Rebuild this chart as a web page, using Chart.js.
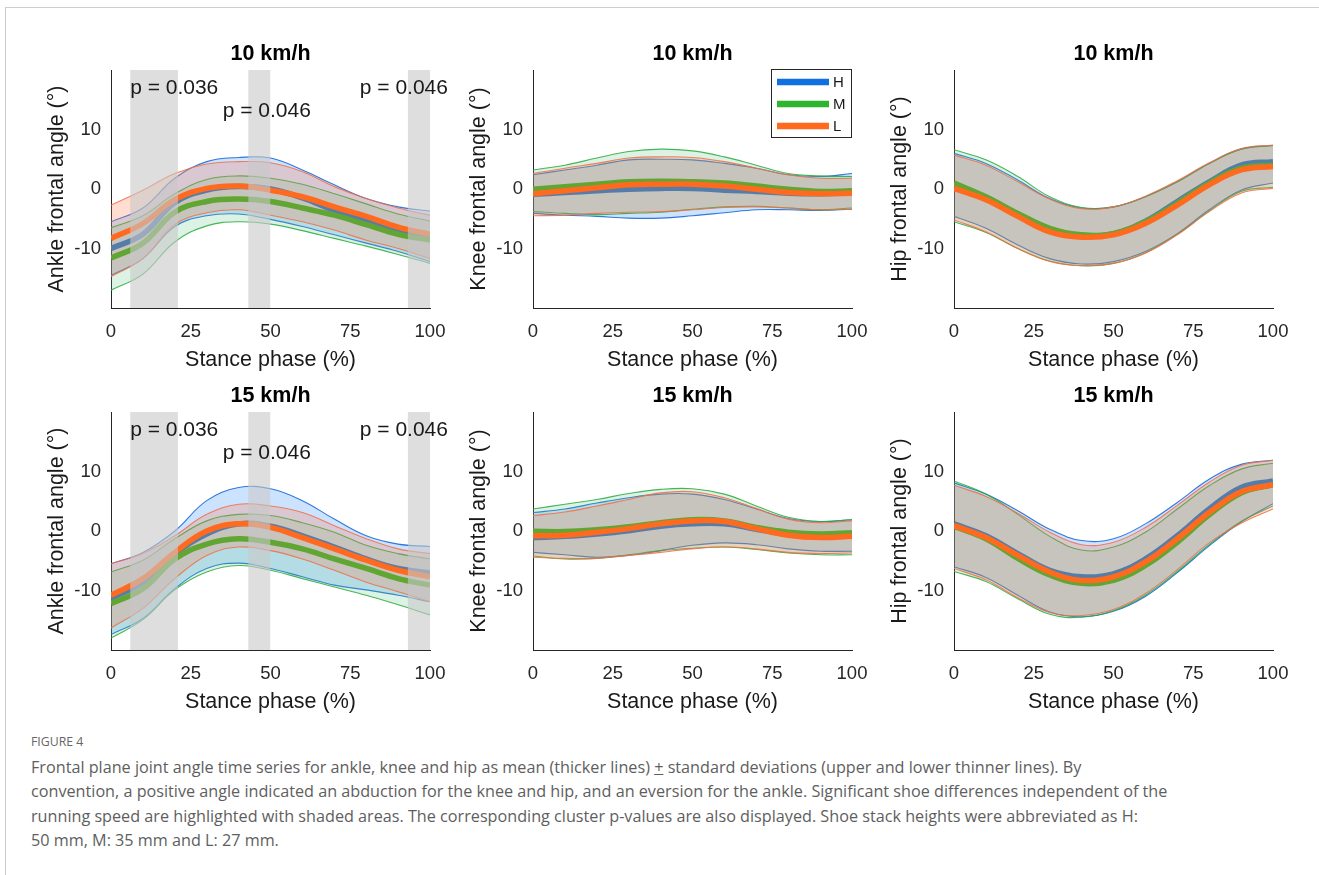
<!DOCTYPE html>
<html>
<head>
<meta charset="utf-8">
<script src="https://cdn.jsdelivr.net/npm/chart.js@4.4.1/dist/chart.umd.min.js"></script>
<style>
html,body{margin:0;padding:0;background:#fff;}
body{width:1319px;height:875px;position:relative;overflow:hidden;}
#frame{position:absolute;left:5px;top:7px;width:1400px;height:900px;border-left:1.5px solid #cdcdcd;border-top:1.5px solid #cdcdcd;}
canvas.pc{position:absolute;}
#figlab{position:absolute;left:31px;top:733px;font-family:'Open Sans',Lato,sans-serif;font-size:12.3px;color:#666;white-space:nowrap;}
#cap{position:absolute;left:31px;top:755px;font-family:'Open Sans',Lato,sans-serif;font-size:16.2px;line-height:24.3px;color:#5e5e5e;white-space:nowrap;}
</style>
</head>
<body>
<div id="frame"></div>
<canvas class="pc" id="c00" width="454" height="356" style="left:21px;top:20px;width:454px;height:356px"></canvas>
<canvas class="pc" id="c01" width="454" height="356" style="left:443px;top:20px;width:454px;height:356px"></canvas>
<canvas class="pc" id="c02" width="454" height="356" style="left:864px;top:20px;width:454px;height:356px"></canvas>
<canvas class="pc" id="c10" width="454" height="356" style="left:21px;top:362px;width:454px;height:356px"></canvas>
<canvas class="pc" id="c11" width="454" height="356" style="left:443px;top:362px;width:454px;height:356px"></canvas>
<canvas class="pc" id="c12" width="454" height="356" style="left:864px;top:362px;width:454px;height:356px"></canvas>
<div id="figlab">FIGURE 4</div>
<div id="cap">Frontal plane joint angle time series for ankle, knee and hip as mean (thicker lines) <u>+</u> standard deviations (upper and lower thinner lines). By<br>convention, a positive angle indicated an abduction for the knee and hip, and an eversion for the ankle. Significant shoe differences independent of the<br>running speed are highlighted with shaded areas. The corresponding cluster p-values are also displayed. Shoe stack heights were abbreviated as H:<br>50 mm, M: 35 mm and L: 27 mm.</div>
<script>
// ---------- data ----------
const stance = [0, 10, 20, 30, 40, 50, 60, 70, 80, 90, 100];
const xTicks = [0, 25, 50, 75, 100];
const yTicks = [-10, 0, 10];
const yRange = [-20, 20];

// Ankle 10 km/h
const ankle10_H_up   = [-5.5, -3.2, 1.8, 4.6, 5.3, 5.2, 3.2, 0.7, -1.6, -3.0, -3.7];
const ankle10_H_mean = [-10.0, -7.6, -2.3, -0.2, 0.4, 0.0, -1.5, -3.6, -5.4, -6.9, -7.9];
const ankle10_H_lo   = [-14.5, -11.7, -6.3, -4.5, -4.2, -5.1, -6.3, -7.7, -9.1, -10.5, -12.2];
const ankle10_M_up   = [-6.5, -4.5, -0.8, 1.6, 2.2, 1.8, 0.8, -0.8, -2.5, -4.2, -5.4];
const ankle10_M_mean = [-11.6, -9.1, -3.9, -2.1, -1.7, -2.1, -3.2, -4.4, -6.0, -7.6, -8.6];
const ankle10_M_lo   = [-17.0, -14.3, -8.9, -6.2, -5.5, -5.9, -7.0, -8.3, -9.6, -11.0, -12.5];
const ankle10_L_up   = [-2.7, -0.2, 2.6, 4.2, 4.6, 4.4, 2.9, 0.4, -1.6, -3.2, -4.4];
const ankle10_L_mean = [-8.3, -5.8, -1.8, 0.1, 0.5, -0.2, -1.3, -3.0, -4.6, -6.4, -7.6];
const ankle10_L_lo   = [-14.7, -11.7, -6.0, -4.0, -3.5, -4.4, -5.5, -6.9, -8.6, -10.0, -11.7];

// Knee 10 km/h
const knee10_H_up   = [2.4, 3.2, 4.0, 4.9, 5.0, 4.9, 4.3, 3.5, 2.4, 2.1, 2.6];
const knee10_H_mean = [-0.9, -0.6, -0.3, -0.05, 0.1, 0.1, -0.2, -0.4, -0.7, -0.8, -0.6];
const knee10_H_lo   = [-4.1, -4.4, -4.6, -4.9, -4.9, -4.5, -4.0, -3.5, -3.5, -3.6, -3.4];
const knee10_M_up   = [3.2, 4.0, 5.2, 6.3, 6.7, 6.4, 5.4, 4.0, 2.6, 2.2, 2.1];
const knee10_M_mean = [-0.05, 0.4, 0.8, 1.2, 1.3, 1.2, 1.0, 0.5, -0.05, -0.4, -0.3];
const knee10_M_lo   = [-3.8, -4.1, -4.3, -4.1, -3.9, -3.4, -3.0, -2.9, -3.2, -3.5, -3.2];
const knee10_L_up   = [2.6, 3.5, 4.3, 5.2, 5.4, 5.3, 4.6, 3.5, 2.4, 1.8, 1.8];
const knee10_L_mean = [-0.8, -0.3, 0.2, 0.7, 0.8, 0.8, 0.5, -0.05, -0.6, -0.8, -0.7];
const knee10_L_lo   = [-4.5, -4.4, -4.1, -3.9, -3.8, -3.5, -3.1, -3.0, -3.2, -3.5, -3.4];

// Hip 10 km/h
const hip10_H_up   = [6.0, 4.3, 1.5, -1.6, -3.2, -3.0, -1.3, 1.2, 4.3, 6.7, 7.3];
const hip10_H_mean = [0.4, -1.6, -4.4, -6.9, -7.9, -7.5, -5.4, -2.1, 1.2, 4.0, 4.6];
const hip10_H_lo   = [-4.6, -6.6, -9.4, -11.7, -12.6, -12.2, -10.5, -7.5, -3.5, -0.2, 1.0];
const hip10_M_up   = [6.6, 4.9, 2.1, -1.3, -3.1, -3.0, -1.3, 1.2, 4.3, 6.7, 7.3];
const hip10_M_mean = [1.0, -1.3, -4.1, -6.6, -7.7, -7.5, -5.5, -2.4, 1.0, 3.5, 4.0];
const hip10_M_lo   = [-5.5, -7.3, -10.0, -12.1, -12.9, -12.5, -10.7, -7.6, -3.7, -0.4, 0.3];
const hip10_L_up   = [5.7, 4.0, 1.2, -1.7, -3.3, -3.0, -1.2, 1.4, 4.4, 6.8, 7.4];
const hip10_L_mean = [0.1, -1.8, -4.6, -7.2, -8.1, -7.7, -5.8, -2.7, 0.7, 3.2, 3.8];
const hip10_L_lo   = [-5.2, -7.2, -10.0, -12.2, -12.9, -12.5, -10.8, -7.7, -3.8, -0.7, 0.1];

// Ankle 15 km/h
const ankle15_H_up   = [-5.5, -3.6, 0.0, 5.1, 7.3, 7.1, 5.1, 2.0, -0.8, -2.2, -2.6];
const ankle15_H_mean = [-11.3, -8.6, -3.8, -0.5, 1.2, 0.8, -0.8, -2.7, -4.7, -6.3, -7.0];
const ankle15_H_lo   = [-17.4, -14.7, -9.7, -6.3, -5.4, -6.3, -7.7, -9.1, -9.9, -10.8, -11.9];
const ankle15_M_up   = [-6.9, -4.9, -1.3, 1.7, 2.8, 2.6, 1.4, -0.2, -2.4, -3.8, -4.7];
const ankle15_M_mean = [-12.2, -9.7, -4.7, -2.2, -1.3, -1.9, -3.0, -4.7, -6.3, -8.0, -9.1];
const ankle15_M_lo   = [-18.0, -14.9, -9.9, -6.9, -5.8, -6.6, -8.0, -9.4, -10.8, -12.4, -14.1];
const ankle15_L_up   = [-5.5, -3.8, -0.8, 2.8, 4.5, 4.2, 3.1, 0.9, -1.3, -3.0, -3.8];
const ankle15_L_mean = [-10.8, -8.0, -3.6, 0.0, 1.2, 0.6, -1.1, -3.0, -4.9, -6.6, -7.7];
const ankle15_L_lo   = [-16.3, -13.0, -8.0, -4.1, -2.7, -3.3, -4.7, -6.6, -8.6, -10.2, -11.9];

// Knee 15 km/h
const knee15_H_up   = [3.1, 3.7, 4.7, 5.6, 6.2, 6.2, 5.3, 3.7, 2.1, 1.6, 1.9];
const knee15_H_mean = [-1.1, -0.9, -0.5, 0.05, 0.8, 1.2, 1.2, 0.3, -0.5, -0.9, -0.7];
const knee15_H_lo   = [-3.6, -4.0, -4.4, -4.1, -3.3, -2.4, -2.0, -2.3, -3.0, -3.4, -3.4];
const knee15_M_up   = [3.7, 4.5, 5.3, 6.3, 7.0, 7.1, 6.2, 4.2, 2.3, 1.6, 1.9];
const knee15_M_mean = [-0.05, -0.1, 0.2, 0.7, 1.4, 1.9, 1.7, 0.6, -0.2, -0.5, -0.3];
const knee15_M_lo   = [-4.2, -4.7, -4.6, -4.0, -3.3, -2.9, -2.7, -3.1, -3.7, -4.0, -4.0];
const knee15_L_up   = [2.6, 3.2, 4.2, 5.3, 6.4, 6.6, 5.6, 3.8, 2.0, 1.4, 1.7];
const knee15_L_mean = [-0.8, -0.7, -0.2, 0.4, 1.2, 1.7, 1.6, 0.4, -0.7, -1.1, -0.9];
const knee15_L_lo   = [-4.4, -4.6, -4.6, -4.1, -3.6, -3.0, -2.7, -3.0, -3.6, -3.8, -3.7];

// Hip 15 km/h
const hip15_H_up   = [8.1, 6.2, 3.4, 0.3, -1.6, -1.3, 1.2, 4.8, 8.7, 11.2, 11.9];
const hip15_H_mean = [1.2, -0.8, -3.8, -6.6, -7.7, -7.2, -4.7, -0.8, 3.7, 7.3, 8.4];
const hip15_H_lo   = [-6.0, -7.8, -10.8, -13.6, -14.4, -13.5, -11.0, -7.0, -2.5, 1.5, 4.6];
const hip15_M_up   = [8.4, 6.2, 2.8, -0.9, -3.2, -2.7, -0.2, 3.7, 7.6, 10.4, 11.4];
const hip15_M_mean = [0.8, -1.3, -4.6, -7.4, -8.8, -8.3, -5.8, -1.9, 2.7, 6.4, 7.8];
const hip15_M_lo   = [-6.8, -8.5, -11.4, -14.0, -14.5, -13.4, -10.8, -6.8, -2.3, 1.6, 4.2];
const hip15_L_up   = [7.7, 5.8, 3.0, -0.2, -2.3, -1.9, 0.6, 4.3, 8.2, 11.0, 11.9];
const hip15_L_mean = [0.9, -1.1, -4.1, -6.9, -8.3, -7.7, -5.2, -1.3, 3.1, 6.6, 7.8];
const hip15_L_lo   = [-6.3, -8.2, -11.2, -13.7, -14.2, -13.2, -10.5, -6.5, -2.0, 1.3, 3.7];

// significance regions (stance %) and cluster p-values
const sigStart = [6, 43, 93];
const sigEnd   = [21, 50, 100];
const pLabels  = ['p = 0.036', 'p = 0.046', 'p = 0.046'];
const pAnchorX = [6, 35, 78];
const pAnchorY = [17, 13, 17];

const shoes = ['H', 'M', 'L'];

// ---------- styles ----------
const FONT = "'Liberation Sans', Arial, Helvetica, sans-serif";
const lineColors = {H: '#1170e0', M: '#2db52d', L: '#ff6a1f'};
const sdColors   = {H: 'rgba(17,100,210,0.85)', M: 'rgba(40,170,60,0.85)', L: 'rgba(240,110,70,0.85)'};
const fillColors = {H: 'rgba(0,114,255,0.2)', M: 'rgba(80,190,120,0.2)', L: 'rgba(255,120,70,0.25)'};
const sigColor = 'rgba(200,200,200,0.6)';
const axisColor = '#262626';

const panels = [
  {id: 'c00', title: '10 km/h', ylab: 'Ankle frontal angle (\u00B0)', sig: true, legend: false,
   H: [ankle10_H_up, ankle10_H_mean, ankle10_H_lo], M: [ankle10_M_up, ankle10_M_mean, ankle10_M_lo], L: [ankle10_L_up, ankle10_L_mean, ankle10_L_lo]},
  {id: 'c01', title: '10 km/h', ylab: 'Knee frontal angle (\u00B0)', sig: false, legend: true,
   H: [knee10_H_up, knee10_H_mean, knee10_H_lo], M: [knee10_M_up, knee10_M_mean, knee10_M_lo], L: [knee10_L_up, knee10_L_mean, knee10_L_lo]},
  {id: 'c02', title: '10 km/h', ylab: 'Hip frontal angle (\u00B0)', sig: false, legend: false,
   H: [hip10_H_up, hip10_H_mean, hip10_H_lo], M: [hip10_M_up, hip10_M_mean, hip10_M_lo], L: [hip10_L_up, hip10_L_mean, hip10_L_lo]},
  {id: 'c10', title: '15 km/h', ylab: 'Ankle frontal angle (\u00B0)', sig: true, legend: false,
   H: [ankle15_H_up, ankle15_H_mean, ankle15_H_lo], M: [ankle15_M_up, ankle15_M_mean, ankle15_M_lo], L: [ankle15_L_up, ankle15_L_mean, ankle15_L_lo]},
  {id: 'c11', title: '15 km/h', ylab: 'Knee frontal angle (\u00B0)', sig: false, legend: false,
   H: [knee15_H_up, knee15_H_mean, knee15_H_lo], M: [knee15_M_up, knee15_M_mean, knee15_M_lo], L: [knee15_L_up, knee15_L_mean, knee15_L_lo]},
  {id: 'c12', title: '15 km/h', ylab: 'Hip frontal angle (\u00B0)', sig: false, legend: false,
   H: [hip15_H_up, hip15_H_mean, hip15_H_lo], M: [hip15_M_up, hip15_M_mean, hip15_M_lo], L: [hip15_L_up, hip15_L_mean, hip15_L_lo]}
];

// ---------- plugins ----------
const boxLegend = {
  id: 'boxLegend',
  afterDraw(chart, args, opts) {
    if (!opts.show) return;
    const {ctx, chartArea: a} = chart;
    const w = 80, h = 68;
    const x0 = Math.round(a.right - 1 - w), y0 = Math.round(a.top - 1);
    ctx.save();
    ctx.fillStyle = '#fff';
    ctx.fillRect(x0, y0, w, h);
    ctx.strokeStyle = axisColor; ctx.lineWidth = 1;
    ctx.strokeRect(x0 + 0.5, y0 + 0.5, w, h);
    ctx.font = '15px ' + FONT; ctx.textBaseline = 'middle'; ctx.textAlign = 'left';
    shoes.forEach((s, i) => {
      const cy = y0 + 13 + i * 22;
      ctx.strokeStyle = lineColors[s]; ctx.lineWidth = 6.5;
      ctx.beginPath(); ctx.moveTo(x0 + 6, cy); ctx.lineTo(x0 + 58, cy); ctx.stroke();
      ctx.fillStyle = '#1a1a1a';
      ctx.fillText(s, x0 + 62, cy + 1);
    });
    ctx.restore();
  }
};
const pvals = {
  id: 'pvals',
  afterDatasetsDraw(chart, args, opts) {
    if (!opts.show) return;
    const {ctx, scales: {x, y}} = chart;
    ctx.save();
    ctx.font = '21px ' + FONT; ctx.fillStyle = '#1a1a1a';
    ctx.textBaseline = 'middle'; ctx.textAlign = 'left';
    pLabels.forEach((t, i) => ctx.fillText(t, x.getPixelForValue(pAnchorX[i]), y.getPixelForValue(pAnchorY[i])));
    ctx.restore();
  }
};
Chart.register(boxLegend, pvals);

function pts(arr) { return stance.map((x, i) => ({x: x, y: arr[i]})); }

function buildDatasets(p) {
  const ds = [];
  let ord = 20;
  shoes.forEach(s => {
    const [up, mean, lo] = p[s];
    ds.push({label: s + ' +SD', data: pts(up), borderColor: sdColors[s], borderWidth: 1.1, fill: false, order: ord - 1});
    ds.push({label: s + ' -SD', data: pts(lo), borderColor: sdColors[s], borderWidth: 1.1, fill: '-1', backgroundColor: fillColors[s], order: ord});
    ds.push({label: s, data: pts(mean), borderColor: lineColors[s], borderWidth: 5.5, fill: false, order: ord - 2});
    ord -= 3;
  });
  if (p.sig) {
    sigStart.forEach((a, i) => {
      ds.push({label: 'sig' + i, data: [{x: a, y: yRange[1]}, {x: sigEnd[i], y: yRange[1]}],
        fill: 'start', backgroundColor: sigColor, borderColor: 'rgba(0,0,0,0)', borderWidth: 0, tension: 0, order: 0});
    });
  }
  return ds;
}

panels.forEach(p => {
  new Chart(document.getElementById(p.id), {
    type: 'line',
    data: {datasets: buildDatasets(p)},
    options: {
      responsive: false, animation: false, events: [],
      layout: {padding: {left: 0, right: 45, top: 0, bottom: 0}},
      elements: {point: {radius: 0}, line: {tension: 0.4, borderCapStyle: 'butt'}},
      plugins: {
        legend: {display: false}, tooltip: {enabled: false},
        title: {display: true, fullSize: false, text: p.title, color: '#000',
          font: {family: FONT, size: 21.5, weight: 'bold'}, padding: {top: 21.6, bottom: 2.6}},
        boxLegend: {show: p.legend},
        pvals: {show: p.sig}
      },
      scales: {
        x: {
          type: 'linear', min: 0, max: 100,
          afterBuildTicks: s => { s.ticks = xTicks.map(v => ({value: v})); },
          ticks: {color: axisColor, font: {family: FONT, size: 18.5}, padding: 13, maxRotation: 0, autoSkip: false},
          grid: {display: false, drawTicks: false},
          border: {display: true, color: axisColor, width: 1},
          title: {display: true, text: 'Stance phase (%)', color: '#1a1a1a', font: {family: FONT, size: 21.5}, padding: {top: 0, bottom: 3}},
          afterFit: s => { s.height = 68; }
        },
        y: {
          type: 'linear', min: yRange[0], max: yRange[1],
          afterBuildTicks: s => { s.ticks = yTicks.map(v => ({value: v})); },
          ticks: {color: axisColor, font: {family: FONT, size: 18.5}, padding: 10},
          grid: {display: false, drawTicks: false},
          border: {display: true, color: axisColor, width: 1},
          title: {display: true, text: p.ylab, color: '#1a1a1a', font: {family: FONT, size: 21.5}, padding: {top: 23.4, bottom: 0}},
          afterFit: s => { s.width = 90; }
        }
      }
    }
  });
});
</script>
</body>
</html>
